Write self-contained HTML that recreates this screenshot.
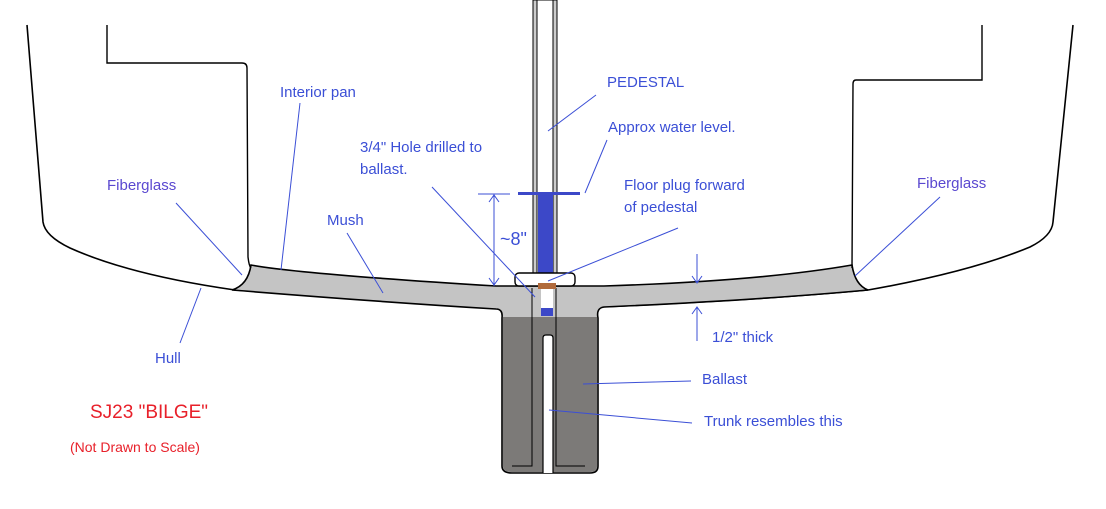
<!DOCTYPE html>
<html><head><meta charset="utf-8"><style>
html,body{margin:0;padding:0;background:#fff;}
svg{display:block;}
text{font-family:"Liberation Sans",sans-serif;font-size:15px;fill:#3b4fd6;}
</style></head><body>
<svg width="1106" height="509" viewBox="0 0 1106 509" xmlns="http://www.w3.org/2000/svg">
<path d="M27,25 L43,222 Q45,236 70,248 Q130,275 235,290 Q380,300 500,307 L600,307 Q760,300 868,290 Q970,272 1030,247 Q1052,236 1053,222 L1073,25" fill="none" stroke="#000" stroke-width="1.6"/>
<path d="M232,290 Q248,285 251,265 Q300,274 496,286 L604,286 Q760,281 852,265 Q855,285 868,290 Q760,300 604,307 Q596,308 598,318 L598,466 Q598,473 590,473 L512,473 Q502,473 502,466 L502,318 Q503,309 496,309 Q380,302 232,290 Z" fill="#c4c4c4" stroke="#000" stroke-width="1.6"/>
<path d="M503,317 L597,317 L597,466 Q597,472 590,472 L512,472 Q503,472 503,466 Z" fill="#7c7a78"/>
<path d="M543,473 L543,338 Q543,335 546,335 L550,335 Q553,335 553,338 L553,473" fill="#fff" stroke="#000" stroke-width="1.2"/>
<path d="M532,288 L532,466 L512,466 M556,288 L556,466 L585,466" fill="none" stroke="#000" stroke-width="1"/>
<path d="M107,25 L107,63 L242,63 Q247,63 247,68 L248,257 Q249,266 251,268" fill="none" stroke="#000" stroke-width="1.4"/>
<path d="M982,25 L982,80 L856,80 Q853,80 853,84 L852,268" fill="none" stroke="#000" stroke-width="1.4"/>
<rect x="533" y="0" width="24" height="274" fill="#ccc" stroke="#000" stroke-width="1"/>
<rect x="537" y="0" width="16" height="274" fill="#fff" stroke="#000" stroke-width="1"/>
<rect x="538" y="193" width="15" height="80" fill="#3c48c8"/>
<rect x="518" y="192" width="62" height="3" fill="#3c48c8"/>
<rect x="515" y="273" width="60" height="13" rx="4" fill="#fff" stroke="#000" stroke-width="1.4"/>
<rect x="538" y="283" width="18" height="6" fill="#b06a3c"/>
<rect x="541" y="289" width="12" height="19" fill="#fff"/>
<rect x="541" y="308" width="12" height="8" fill="#3c48c8"/>
<g stroke="#3b4fd6" stroke-width="1" fill="none">
<line x1="478" y1="194" x2="510" y2="194"/>
<line x1="494" y1="194" x2="494" y2="286"/>
<path d="M489,202 L494,195 L499,202 M489,278 L494,285 L499,278"/>
<line x1="697" y1="254" x2="697" y2="283"/><path d="M692,276 L697,283 L702,276"/>
<line x1="697" y1="307" x2="697" y2="341"/><path d="M692,314 L697,307 L702,314"/>
<line x1="300" y1="103" x2="281" y2="270"/>
<line x1="176" y1="203" x2="242" y2="275"/>
<line x1="180" y1="343" x2="201" y2="288"/>
<line x1="347" y1="233" x2="383" y2="293"/>
<line x1="596" y1="95" x2="548" y2="131"/>
<line x1="607" y1="140" x2="585" y2="193"/>
<line x1="432" y1="187" x2="535" y2="297"/>
<line x1="678" y1="228" x2="548" y2="281"/>
<line x1="940" y1="197" x2="855" y2="276"/>
<line x1="583" y1="384" x2="691" y2="381"/>
<line x1="549" y1="410" x2="692" y2="423"/>
</g>
<text x="280" y="97">Interior pan</text>
<text x="107" y="190" style="fill:#5a48d0">Fiberglass</text>
<text x="917" y="188" style="fill:#5a48d0">Fiberglass</text>
<text x="155" y="363">Hull</text>
<text x="327" y="225">Mush</text>
<text x="607" y="87">PEDESTAL</text>
<text x="608" y="132">Approx water level.</text>
<text x="360" y="152">3/4" Hole drilled to</text>
<text x="360" y="174">ballast.</text>
<text x="624" y="190">Floor plug forward</text>
<text x="624" y="212">of pedestal</text>
<text x="500" y="245" style="font-size:18px">~8"</text>
<text x="712" y="342">1/2" thick</text>
<text x="702" y="384">Ballast</text>
<text x="704" y="426">Trunk resembles this</text>
<text x="90" y="418" style="fill:#e8202a;font-size:19px">SJ23 "BILGE"</text>
<text x="70" y="452" style="fill:#e8202a;font-size:14px">(Not Drawn to Scale)</text>
</svg>
</body></html>
